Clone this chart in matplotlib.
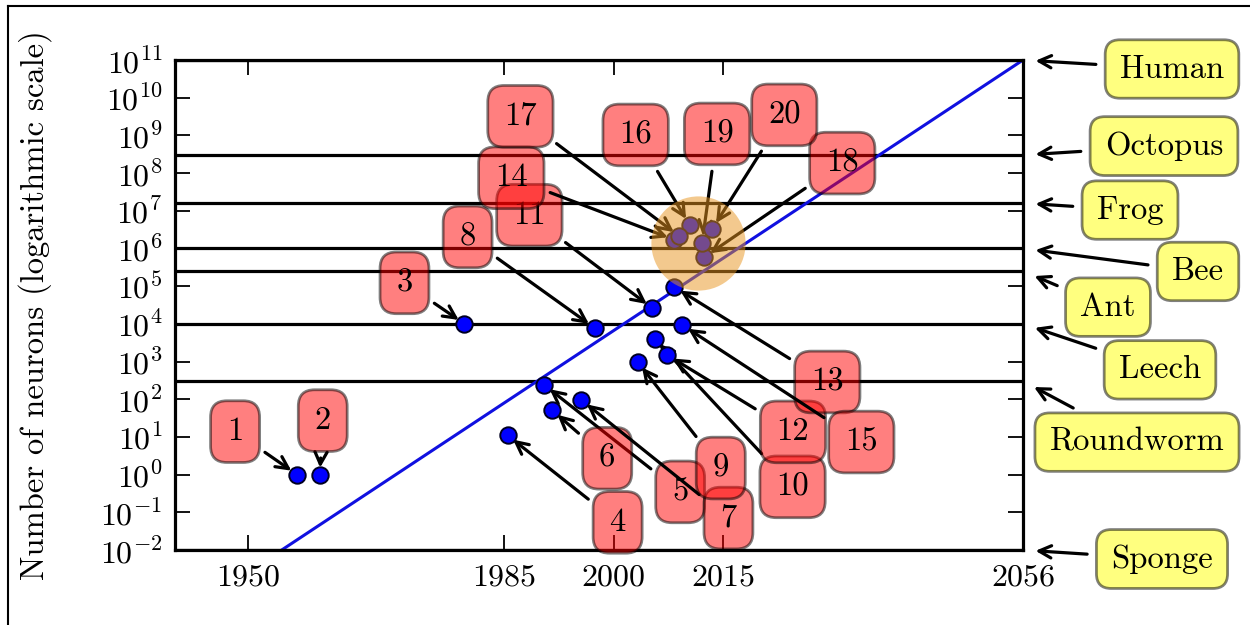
import numpy as np
import matplotlib
matplotlib.use('Agg')
import matplotlib.pyplot as plt
from matplotlib.ticker import FuncFormatter, NullLocator
from matplotlib.lines import Line2D

plt.rcParams['font.family'] = ['cmr10', 'DejaVu Serif']
plt.rcParams['mathtext.fontset'] = 'cm'
plt.rcParams['axes.unicode_minus'] = False
plt.rcParams['axes.formatter.use_mathtext'] = True

# networks
net_ids = list(range(1, 21))
net_years = [1956.7, 1959.8, 1979.6, 1985.5, 1990.5, 1991.6, 1995.6, 1997.4, 2003.3, 2005.6,
             2005.3, 2007.3, 2008.3, 2008.3, 2009.4, 2010.4, 2009.0, 2012.4, 2012.1, 2013.5]
net_neurons = [1.0, 1.0, 1.0e4, 11, 240, 51, 95, 7.8e3, 970, 4.0e3,
               2.6e4, 1.5e3, 9.5e4, 1.7e6, 9.3e3, 4.2e6, 2.1e6, 5.9e5, 1.4e6, 3.3e6]
# where each number box sits, in pixels from its point
net_offsets = [(-62, 43), (3, 54), (-60, 41), (110, -87), (136, -107), (55, -48), (147, -118),
               (-127, 91), (83, -106), (138, -148), (-123, 93), (126, -77), (153, -95),
               (-163, 62), (179, -117), (-54, 90), (-159, 120), (138, 94), (15, 109), (72, 114)]

# animals
animal_names = ['Human', 'Octopus', 'Frog', 'Bee', 'Ant', 'Leech', 'Roundworm', 'Sponge']
animal_neurons = [1e11, 3e8, 1.6e7, 1e6, 2.5e5, 1e4, 302, 1e-2]  # sponge has none -> floor
animal_offsets = [(149, -9), (141, 9), (107, -7), (175, -23), (85, -36), (137, -46),
                  (114, -61), (139, -9)]

# trend line
trend_years = [1954.6, 2056]
trend_neurons = [1e-2, 1e11]

# recent cluster
cluster_year = 2011.6
cluster_neurons = 1.4e6

xticks = [1950, 1985, 2000, 2015, 2056]

fig = plt.figure(figsize=(12.5, 6.25), dpi=100)
ax = fig.add_axes([0.14, 0.12, 0.6784, 0.784])
ax.set_yscale('log')
ax.set_xlim(1940, 2056)
ax.set_ylim(1e-2, 1e11)

for v in animal_neurons:
    ax.axhline(v, color='black', lw=2.3, zorder=1)

ax.plot(trend_years, trend_neurons, color='#1010e0', lw=2.2, zorder=2)
ax.scatter(net_years, net_neurons, s=140, fc='#0000ff', ec='#000022', lw=1.4, zorder=4)

for i, yr, n, off in zip(net_ids, net_years, net_neurons, net_offsets):
    ax.annotate(str(i), xy=(yr, n), xytext=off, textcoords='offset pixels',
                ha='center', va='center', fontsize=23.5, color='black', zorder=3,
                bbox=dict(boxstyle='round,pad=0.5', fc='red', ec='black', lw=2, alpha=0.5),
                arrowprops=dict(arrowstyle='->', color='black', lw=2.3, shrinkA=4, shrinkB=5,
                                mutation_scale=22))

ax.scatter([cluster_year], [cluster_neurons], s=4600, color='#e8951e', alpha=0.5,
           lw=0, zorder=6)

for name, v, off in zip(animal_names, animal_neurons, animal_offsets):
    ax.annotate(name, xy=(1, v), xycoords=('axes fraction', 'data'), xytext=off,
                textcoords='offset pixels', ha='center', va='center', fontsize=23.5,
                annotation_clip=False,
                bbox=dict(boxstyle='round,pad=0.45', fc='yellow', ec='black', lw=2, alpha=0.5),
                arrowprops=dict(arrowstyle='->', color='black', lw=2.3, shrinkA=6, shrinkB=9,
                                mutation_scale=22))

ax.set_xticks(xticks)
ax.set_yticks([10.0 ** k for k in range(-2, 12)])
ax.yaxis.set_minor_locator(NullLocator())
ax.yaxis.set_major_formatter(FuncFormatter(lambda v, p: r'$10^{%d}$' % round(np.log10(v))))
ax.tick_params(direction='in', length=10.5, width=1.3, top=True, right=True,
               labelsize=23)
ax.tick_params(axis='y', pad=9)
ax.tick_params(axis='x', pad=10)
for s in ax.spines.values():
    s.set_linewidth(2.3)

ax.set_ylabel('Number of neurons (logarithmic scale)', fontsize=23.5)
ax.yaxis.set_label_coords(-0.145, 0.5)

# frame around the picture
fig.add_artist(Line2D([8 / 1250, 8 / 1250], [0, 1 - 6 / 625], color='black', lw=1.5))
fig.add_artist(Line2D([8 / 1250, 1], [1 - 6 / 625, 1 - 6 / 625], color='black', lw=1.5))

fig.savefig('out.png', dpi=100)
